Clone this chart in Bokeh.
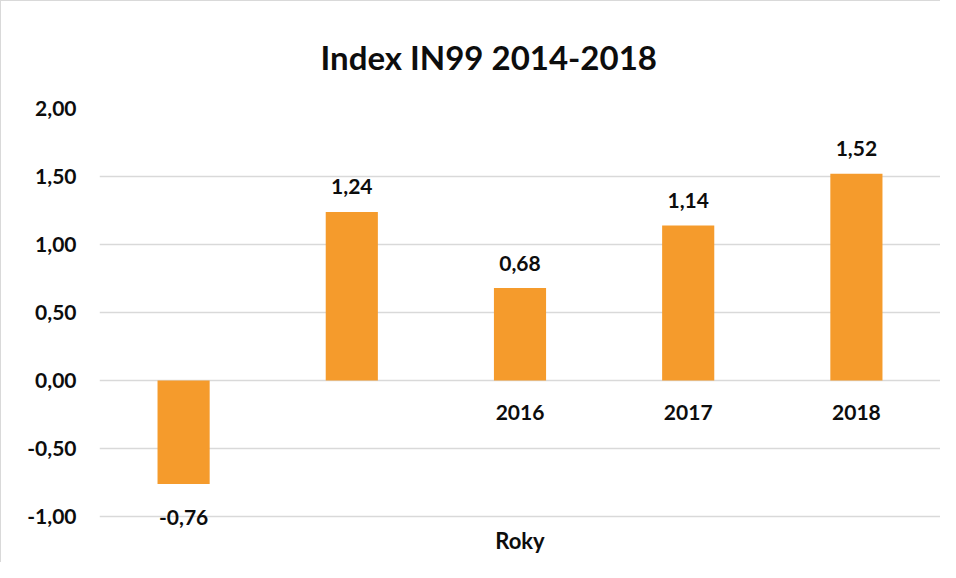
from bokeh.plotting import figure
from bokeh.models import FactorRange, Range1d, ColumnDataSource, FixedTicker, CustomJSTickFormatter, Title, LabelSet
from bokeh.core.properties import value
from bokeh.embed import file_html
from bokeh.resources import INLINE

years = ["2014", "2015", "2016", "2017", "2018"]
index_values = [-0.76, 1.24, 0.68, 1.14, 1.52]
axis_labels = ["", "", "2016", "2017", "2018"]
y_ticks = [-1.0, -0.5, 0.0, 0.5, 1.0, 1.5, 2.0]
title_text = "Index IN99 2014-2018"
x_title = "Roky"

FONT = "Lato"
BAR = "#F59B2C"

p = figure(width=940, height=562, output_backend="svg", toolbar_location=None,
           x_range=FactorRange(factors=years, range_padding=0),
           y_range=Range1d(-1.3, 2.0),
           min_border_left=98, min_border_right=1, min_border_top=107, min_border_bottom=6)
p.outline_line_color = None
p.background_fill_color = "white"
p.border_fill_color = "white"
p.styles = {"border-left": "1px solid #d9d9d9", "border-top": "1px solid #d9d9d9"}

src = ColumnDataSource(data=dict(
    x=years, top=index_values,
    lbl=[("%.2f" % v).replace(".", ",") for v in index_values],
    off=[25 if v >= 0 else -33 for v in index_values],
    cat=axis_labels,
    zero=[0.0] * len(years),
))

p.vbar(x="x", top="top", bottom=0, width=0.31, source=src, fill_color=BAR, line_color=None)

p.add_layout(LabelSet(x="x", y="top", text="lbl", y_offset="off", source=src,
                      text_font=value(FONT), text_font_style="bold", text_font_size="21px",
                      text_align="center", text_baseline="middle", text_color="#0d0d0d"))

p.text(x="x", y="zero", text="cat", y_offset=32, source=src,
       text_font=value(FONT), text_font_style="bold", text_font_size="21px",
       text_align="center", text_baseline="middle", text_color="#0d0d0d")

# axis title "Roky", centred under the middle category, just below the -1,00 line
p.text(x=[years[2]], y=[y_ticks[0]], text=[x_title], y_offset=24,
       text_font=value(FONT), text_font_style="bold", text_font_size="22px",
       text_align="center", text_baseline="middle", text_color="#0d0d0d")

p.xaxis.visible = False
p.xgrid.visible = False
p.ygrid.grid_line_color = "#d9d9d9"
p.ygrid.grid_line_width = 1.5

ya = p.yaxis[0]
ya.ticker = FixedTicker(ticks=y_ticks)
ya.formatter = CustomJSTickFormatter(code="return tick.toFixed(2).replace('.', ',');")
ya.axis_line_color = None
ya.major_tick_line_color = None
ya.minor_tick_line_color = None
ya.major_tick_out = 0
ya.major_tick_in = 0
ya.major_label_standoff = 23
ya.major_label_text_font = FONT
ya.major_label_text_font_style = "bold"
ya.major_label_text_font_size = "21px"
ya.major_label_text_color = "#0d0d0d"

p.title = Title(text=title_text, align="left", offset=221, standoff=64,
                text_font=FONT, text_font_style="bold", text_font_size="33px",
                text_color="#0d0d0d")

open("out.html", "w").write(file_html(p, INLINE))
